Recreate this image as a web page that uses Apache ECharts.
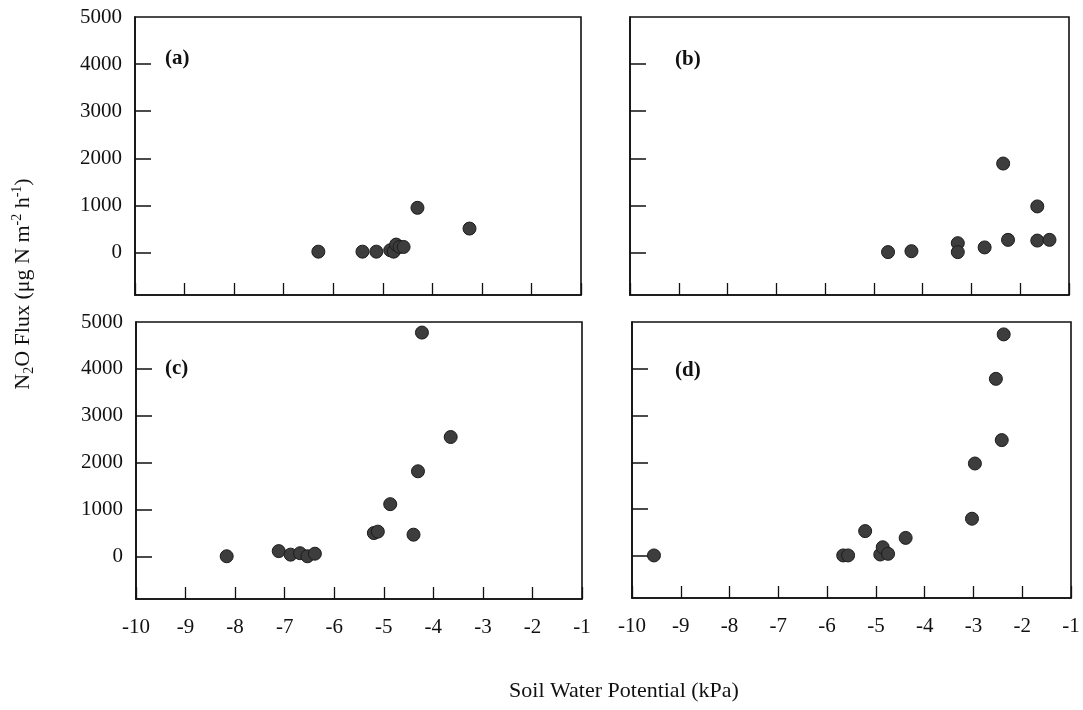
<!DOCTYPE html>
<html><head><meta charset="utf-8">
<script src="https://cdn.jsdelivr.net/npm/echarts@6/dist/echarts.min.js"></script>
<style>html,body{margin:0;padding:0;background:#fff}#c{width:1083px;height:710px}</style>
</head><body><div id="c"></div>
<script>
// ---- data ----
const panelNames = ['(a)', '(b)', '(c)', '(d)'];
const aX = [-6.30, -5.41, -5.13, -4.85, -4.78, -4.73, -4.66, -4.58, -4.30, -3.25];
const aY = [20, 20, 20, 50, 20, 170, 120, 120, 950, 510];
const bX = [-4.71, -4.23, -3.28, -3.28, -2.73, -2.35, -2.25, -1.65, -1.65, -1.40];
const bY = [10, 30, 200, 10, 110, 1890, 270, 980, 255, 270];
const cX = [-8.17, -7.12, -6.88, -6.69, -6.54, -6.39, -5.20, -5.12, -4.87, -4.40, -4.31, -4.23, -3.65];
const cY = [10, 120, 45, 75, 10, 65, 505, 535, 1120, 470, 1820, 4775, 2550];
const dX = [-9.55, -5.67, -5.57, -5.22, -4.91, -4.86, -4.75, -4.39, -3.03, -2.97, -2.54, -2.42, -2.38];
const dY = [10, 10, 10, 530, 30, 185, 45, 385, 795, 1975, 3785, 2475, 4735];
const xMin = -10, xMax = -1, xStep = 1;
const yMin = -900, yMax = 5000;
const yLabelValues = [0, 1000, 2000, 3000, 4000, 5000];
const yTickValues = [0, 1000, 2000, 3000, 4000];
const xTitle = 'Soil Water Potential (kPa)';

const panelsX = [aX, bX, cX, dX];
const panelsY = [aY, bY, cY, dY];

// ---- layout ----
const FONT = '"Liberation Serif", "Times New Roman", serif';
const FS = 21;
const grids = [
  { left: 135, top: 17, width: 446, height: 278 },
  { left: 630, top: 17, width: 439, height: 278 },
  { left: 136, top: 322, width: 446, height: 277 },
  { left: 632, top: 322, width: 439, height: 276 }
];
const showXLabels = [false, false, true, true];
const showYLabels = [true, false, true, false];
const labelPos = [[165, 59], [675, 60], [165, 369], [675, 371]];

const zip = (xs, ys) => xs.map((x, i) => [x, ys[i]]);

const option = {
  backgroundColor: '#fff',
  animation: false,
  grid: grids.map(g => Object.assign({ show: true, borderColor: '#111', borderWidth: 1.6, backgroundColor: 'transparent' }, g)),
  xAxis: grids.map((g, i) => ({
    type: 'value', gridIndex: i, min: xMin, max: xMax, interval: xStep,
    axisLine: { show: true, onZero: false, lineStyle: { color: '#111', width: 1.6 } },
    axisTick: { show: true, inside: true, length: 12, lineStyle: { color: '#111', width: 1.3 } },
    axisLabel: { show: showXLabels[i], margin: 18, color: '#111', fontFamily: FONT, fontSize: FS, showMinLabel: true, showMaxLabel: true, formatter: v => String(v) },
    splitLine: { show: false }
  })),
  yAxis: grids.map((g, i) => ({
    type: 'value', gridIndex: i, min: yMin, max: yMax,
    axisLine: { show: true, onZero: false, lineStyle: { color: '#111', width: 1.6 } },
    axisTick: { show: true, inside: true, length: 16, customValues: yTickValues, lineStyle: { color: '#111', width: 1.5 } },
    axisLabel: { show: showYLabels[i], customValues: yLabelValues, margin: 13, color: '#111', fontFamily: FONT, fontSize: FS, formatter: v => String(v) },
    splitLine: { show: false }
  })),
  series: panelsX.map((xs, i) => ({
    type: 'scatter', xAxisIndex: i, yAxisIndex: i,
    data: zip(xs, panelsY[i]),
    symbol: 'circle', symbolSize: 13,
    itemStyle: { color: '#3d3d3d', borderColor: '#1c1c1c', borderWidth: 1, opacity: 1 }
  })),
  graphic: [
    ...panelNames.map((t, i) => ({
      type: 'text', x: labelPos[i][0], y: labelPos[i][1],
      style: { text: t, fill: '#111', font: 'bold ' + FS + 'px ' + FONT, align: 'left', verticalAlign: 'middle' }
    })),
    {
      type: 'text', x: 624, y: 691,
      style: { text: xTitle, fill: '#111', font: '22px ' + FONT, align: 'center', verticalAlign: 'middle' }
    },
    {
      type: 'text', x: 23, y: 284, rotation: Math.PI / 2,
      style: {
        text: '{n|N}{s|2}{n|O Flux (μg N m}{p|-2}{n| h}{p|-1}{n|)}',
        align: 'center', verticalAlign: 'middle', fill: '#111',
        rich: {
          n: { fontFamily: FONT, fontSize: 22, lineHeight: 26, verticalAlign: 'middle', fill: '#111' },
          s: { fontFamily: FONT, fontSize: 14, lineHeight: 14, verticalAlign: 'bottom', fill: '#111' },
          p: { fontFamily: FONT, fontSize: 14, lineHeight: 14, verticalAlign: 'top', fill: '#111' }
        }
      }
    }
  ]
};

const chart = echarts.init(document.getElementById('c'), null, { renderer: 'canvas' });
chart.setOption(option);
</script>
</body></html>
